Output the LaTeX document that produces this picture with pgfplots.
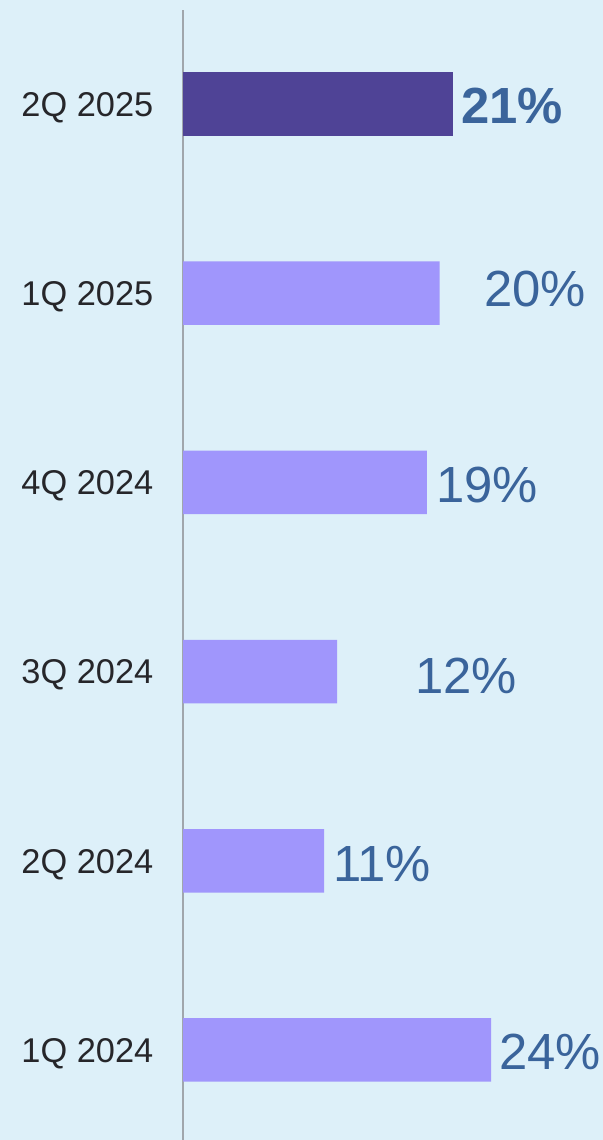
\documentclass[border=0pt]{standalone}
\usepackage{pgfplots}
\pgfplotsset{compat=1.18}
\usepackage{fontspec}
\setmainfont{Liberation Sans}
\definecolor{bgc}{RGB}{221,240,249}
\definecolor{darkbar}{RGB}{79,67,150}
\definecolor{lightbar}{RGB}{160,150,252}
\definecolor{lblblue}{RGB}{58,100,155}
\definecolor{tickc}{RGB}{38,38,42}
\definecolor{axgray}{RGB}{160,166,172}
\begin{document}
\begin{tikzpicture}
\fill[bgc] (0,0) rectangle (603bp,1140bp);
\begin{axis}[
  at={(183bp,0bp)}, anchor=south west,
  scale only axis,
  width=410.67bp, height=1130bp,
  xmin=0, xmax=32,
  ymin=-0.4757, ymax=5.4968,
  axis x line=none,
  axis y line*=left,
  axis line style={draw=axgray, line width=1.3bp},
  xbar, bar shift=0pt, bar width=63.5bp,
  ytick={0,1,2,3,4,5},
  yticklabels={1Q 2024,2Q 2024,3Q 2024,4Q 2024,1Q 2025,2Q 2025},
  major tick length=0pt,
  yticklabel style={font=\fontsize{34.5}{34.5}\selectfont, text=tickc, anchor=east, inner sep=0pt, text height=24.7pt, text depth=0pt, xshift=-29.5bp},
  clip=false,
]
\addplot[fill=lightbar, draw=none] coordinates {(24,0) (11,1) (12,2) (19,3) (20,4)};
\addplot[fill=darkbar, draw=none] coordinates {(21,5)};
\begin{scope}[every node/.style={text=lblblue, inner sep=0pt, text height=36.5pt, text depth=0pt, anchor=center, font=\fontsize{51}{51}\selectfont}]
\node[font=\fontsize{51}{51}\selectfont\bfseries] at (axis cs:25.64,4.993) {21\%};
\node at (axis cs:27.43,4.026) {20\%};
\node at (axis cs:23.69,2.992) {19\%};
\node at (axis cs:22.05,1.980) {12\%};
\node at (axis cs:15.51,0.988) {11\%};
\node at (axis cs:28.60,-0.009) {24\%};
\end{scope}
\end{axis}
\pgfresetboundingbox
\path[use as bounding box] (0,0) rectangle (603bp,1140bp);
\end{tikzpicture}
\end{document}
